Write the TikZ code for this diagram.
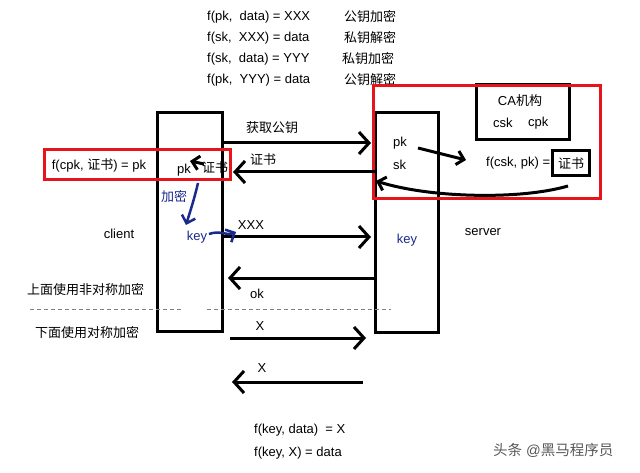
\documentclass[tikz,border=0pt]{standalone}
\usepackage{fontspec}
\setmainfont{Liberation Sans}
\newfontfamily\cjk{Noto Sans CJK SC}
\usetikzlibrary{arrows.meta}
\definecolor{navy}{HTML}{1A2A8C}
\definecolor{redbox}{HTML}{E8141B}
\begin{document}
\begin{tikzpicture}[x=1pt,y=-1pt,
  txt/.style={inner sep=0pt,font=\fontsize{13}{15}\selectfont},
  bluetxt/.style={txt,text=navy},
  lbox/.style={draw=black,line width=3pt},
  rbox/.style={draw=redbox,line width=3pt},
  bigarrow/.style={line width=3pt,-{Straight Barb[length=10pt,width=22pt]}},
  smallarrow/.style={line width=3pt,-{Straight Barb[length=7pt,width=14pt]}},
  bluearrow/.style={draw=navy,line width=2.5pt,-{Straight Barb[length=7pt,width=14pt]}},
  dashline/.style={draw=gray,line width=0.8pt,dash pattern=on 4pt off 3pt}]
\useasboundingbox[fill=white] (0,0) rectangle (640,473);

% top formulas
\node[txt,anchor=west] (t1) at (207,17) {f(pk,\ \ data) = XXX};
\node[txt,anchor=west] (t2) at (207,38) {f(sk,\ \ XXX) = data};
\node[txt,anchor=west] (t3) at (207,59) {f(sk,\ \ data) = YYY};
\node[txt,anchor=west] (t4) at (207,80) {f(pk,\ \ YYY) = data};
\node[txt,anchor=west] (c1) at (344,17) {\cjk 公钥加密};
\node[txt,anchor=west] (c2) at (344,38) {\cjk 私钥解密};
\node[txt,anchor=west] (c3) at (342,59) {\cjk 私钥加密};
\node[txt,anchor=west] (c4) at (344,80) {\cjk 公钥解密};

% boxes
\draw[lbox] (157,113) rectangle (222,331);
\draw[lbox] (375,113) rectangle (438,332);
\node[lbox,minimum width=93pt,minimum height=55pt,inner sep=0pt] (ca) at (522.5,112.5) {};
\node[txt] (catitle) at (520,101) {CA{\cjk 机构}};
\node[txt,anchor=west] (csk) at (493,123) {csk};
\node[txt,anchor=west] (cpk) at (528,123) {cpk};

% red boxes
\draw[rbox] (44,150) rectangle (230,180);
\draw[rbox] (373,86) rectangle (600,199);

% client side texts
\node[txt] (fcpk) at (99,165) {f(cpk, {\cjk 证书}) = pk};
\node[txt] (cpkk) at (184,170) {pk};
\node[txt] (ccert) at (215,168) {\cjk 证书};
\node[txt] (client) at (119,234) {client};
\node[bluetxt] (jiami) at (174,197) {\cjk 加密};
\node[bluetxt] (ckey) at (197,237) {key};

% server texts
\node[txt,anchor=west] (spk) at (393,143) {pk};
\node[txt,anchor=west] (ssk) at (393,165) {sk};
\node[txt,anchor=west] (fcsk) at (486,163) {f(csk, pk) =};
\node[lbox,draw,minimum width=37pt,minimum height=25pt,inner sep=0pt,font=\fontsize{13}{15}\selectfont] (scert) at (571,163.5) {\cjk 证书};
\node[bluetxt] (skey) at (407,240) {key};
\node[txt] (server) at (483,232) {server};

% arrow labels
\node[txt] (l1) at (272,128) {\cjk 获取公钥};
\node[txt] (l2) at (263,160) {\cjk 证书};
\node[txt] (l3) at (251,225) {XXX};
\node[txt] (l4) at (257,294) {ok};
\node[txt] (l5) at (260,326) {X};
\node[txt] (l6) at (262,368) {X};

% coordinates
\coordinate (a1s) at (222,143); \coordinate (a1e) at (371,143);
\coordinate (a2s) at (375,172); \coordinate (a2e) at (233,172);
\coordinate (a3s) at (222,237); \coordinate (a3e) at (371,237);
\coordinate (a4s) at (375,278); \coordinate (a4e) at (228,278);
\coordinate (a5s) at (230,338); \coordinate (a5e) at (366,338);
\coordinate (a6s) at (363,382); \coordinate (a6e) at (232,382);
\coordinate (p1) at (418,148); \coordinate (p2) at (466,160);
\coordinate (cv1) at (568,186); \coordinate (cv2) at (376,181);
\coordinate (b1) at (198,183); \coordinate (b2) at (186,225);
\coordinate (k1) at (209,234); \coordinate (k2) at (236,232);
\coordinate (q1) at (204,164); \coordinate (q2) at (190,161);

\draw[bigarrow] (a1s) -- (a1e);
\draw[bigarrow] (a2s) -- (a2e);
\draw[bigarrow] (a3s) -- (a3e);
\draw[bigarrow] (a4s) -- (a4e);
\draw[bigarrow] (a5s) -- (a5e);
\draw[bigarrow] (a6s) -- (a6e);
\draw[smallarrow] (p1) -- (p2);
\draw[smallarrow] (cv1) .. controls (520,200) and (430,198) .. (cv2);
\draw[smallarrow] (q1) -- (q2);
\draw[bluearrow] (b1) .. controls (194,200) and (190,212) .. (b2);
\draw[bluearrow] (k1) .. controls (220,230) and (228,236) .. (k2);

% separators
\node[txt,anchor=west] (up) at (27,290) {\cjk 上面使用非对称加密};
\node[txt,anchor=west] (down) at (35,333) {\cjk 下面使用对称加密};
\coordinate (d1s) at (30,309); \coordinate (d1e) at (183,309);
\coordinate (d2s) at (207,309); \coordinate (d2e) at (391,309);
\draw[dashline] (d1s) -- (d1e);
\draw[dashline] (d2s) -- (d2e);

% bottom
\node[txt,anchor=west] (b1t) at (254,430) {f(key, data)\ \ = X};
\node[txt,anchor=west] (b2t) at (254,453) {f(key, X) = data};
\node[txt,anchor=west,text=gray!70!black,font=\fontsize{14.5}{16}\selectfont] (wm) at (493,450) {{\cjk 头条} @{\cjk 黑马程序员}};
\end{tikzpicture}
\end{document}
